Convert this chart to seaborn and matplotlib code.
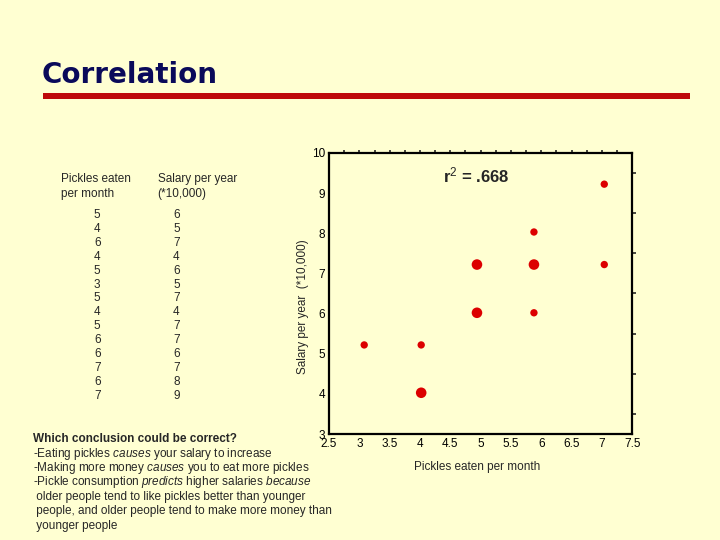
import numpy as np
import pandas as pd
import matplotlib
matplotlib.use("Agg")
import matplotlib.pyplot as plt
import matplotlib.patches as patches
import seaborn as sns

# table on the slide
pickles = [5, 4, 6, 4, 5, 3, 5, 4, 5, 6, 6, 7, 6, 7]
salary = [6, 5, 7, 4, 6, 5, 7, 4, 7, 7, 6, 7, 8, 9]

# points as they sit in the plotted scatter
pt_x = [3.08, 4.02, 4.02, 4.94, 4.94, 5.88, 5.88, 5.88, 7.04, 7.04]
pt_y = [5.22, 5.22, 4.03, 7.22, 6.02, 8.03, 7.22, 6.02, 9.22, 7.22]
pt_n = [1, 1, 2, 2, 2, 1, 2, 1, 1, 1]

x_ticks = [2.5, 3, 3.5, 4, 4.5, 5, 5.5, 6, 6.5, 7, 7.5]
x_tick_labels = ["2.5", "3", "3.5", "4", "4.5", "5", "5.5", "6", "6.5", "7", "7.5"]
y_ticks = [3, 4, 5, 6, 7, 8, 9, 10]

bg = "#FFFFD2"
sns.set_theme(style="white")
plt.rcParams['font.family'] = ['Liberation Sans', 'DejaVu Sans']
plt.rcParams['mathtext.fontset'] = 'custom'
plt.rcParams['mathtext.rm'] = 'Liberation Sans'
plt.rcParams['mathtext.it'] = 'Liberation Sans:italic'
plt.rcParams['mathtext.bf'] = 'Liberation Sans:bold'

fig = plt.figure(figsize=(7.2, 5.4), dpi=100, facecolor=bg)

# title + red rule
fig.text(0.058, 0.861, "Correlation", fontsize=20, fontweight="bold", color="#0A0A5A",
         va="center", family="DejaVu Sans")
fig.add_artist(patches.Rectangle((0.06, 0.817), 0.899, 0.011, transform=fig.transFigure,
                                 color="#BE0A0A", lw=0))

# data table
fig.text(0.085, 0.655, "Pickles eaten\nper month", fontsize=8.5, va="center", linespacing=1.3)
fig.text(0.219, 0.655, "Salary per year\n(*10,000)", fontsize=8.5, va="center", linespacing=1.3)
for i, (p, s) in enumerate(zip(pickles, salary)):
    yy = 1 - (215 + i * 13.9) / 540
    fig.text(0.135, yy, str(p), fontsize=8.5, ha="center", va="center")
    fig.text(0.245, yy, str(s), fontsize=8.5, ha="center", va="center")

# scatter
ax = fig.add_axes([0.457, 0.196, 0.421, 0.521])
ax.set_facecolor(bg)
df = pd.DataFrame({"x": pt_x, "y": pt_y, "n": pt_n})
sns.scatterplot(data=df, x="x", y="y", size="n", sizes={1: 28, 2: 58}, color="#DC0000",
                edgecolor="none", legend=False, ax=ax)
ax.set_xlim(2.5, 7.5)
ax.set_ylim(3, 10)
ax.set_xticks(x_ticks)
ax.set_xticklabels(x_tick_labels)
ax.set_yticks(y_ticks)
for sp in ax.spines.values():
    sp.set_linewidth(1.6)
    sp.set_color("black")
ax.tick_params(axis="both", direction="out", length=2.5, width=1.2, labelsize=8.5, pad=0.5,
               colors="black", labelcolor="black")
ax.set_xlabel("Pickles eaten per month", fontsize=8.5)
ax.set_ylabel("Salary per year  (*10,000)", fontsize=8.5)
ax.xaxis.set_label_coords(0.488, -0.095)
ax.yaxis.set_label_coords(-0.065, 0.455)

top = ax.secondary_xaxis("top")
top.set_xticks(np.arange(2.75, 7.5, 0.25))
top.tick_params(direction="out", length=2.5, width=1.2, labeltop=False)
top.spines["top"].set_visible(False)
right = ax.secondary_yaxis("right")
right.set_yticks(np.arange(3.5, 10, 1.0))
right.tick_params(direction="out", length=3, width=1.2, labelright=False)
right.spines["right"].set_visible(False)

ax.text(0.485, 0.92, r"r$^2$ = .668", transform=ax.transAxes, fontsize=12, fontweight="bold",
        ha="center", va="center")

# question text
fig.text(0.046, 1 - 439 / 540, "Which conclusion could be correct?", fontsize=8.5,
         fontweight="bold", va="center")
lines = [
    r"-Eating pickles $\it{causes}$ your salary to increase",
    r"-Making more money $\it{causes}$ you to eat more pickles",
    r"-Pickle consumption $\it{predicts}$ higher salaries $\it{because}$",
    " older people tend to like pickles better than younger",
    " people, and older people tend to make more money than",
    " younger people",
]
for i, t in enumerate(lines):
    fig.text(0.046, 1 - (453.5 + i * 14.4) / 540, t, fontsize=8.5, va="center")

fig.savefig("out.png", dpi=100, facecolor=bg)
